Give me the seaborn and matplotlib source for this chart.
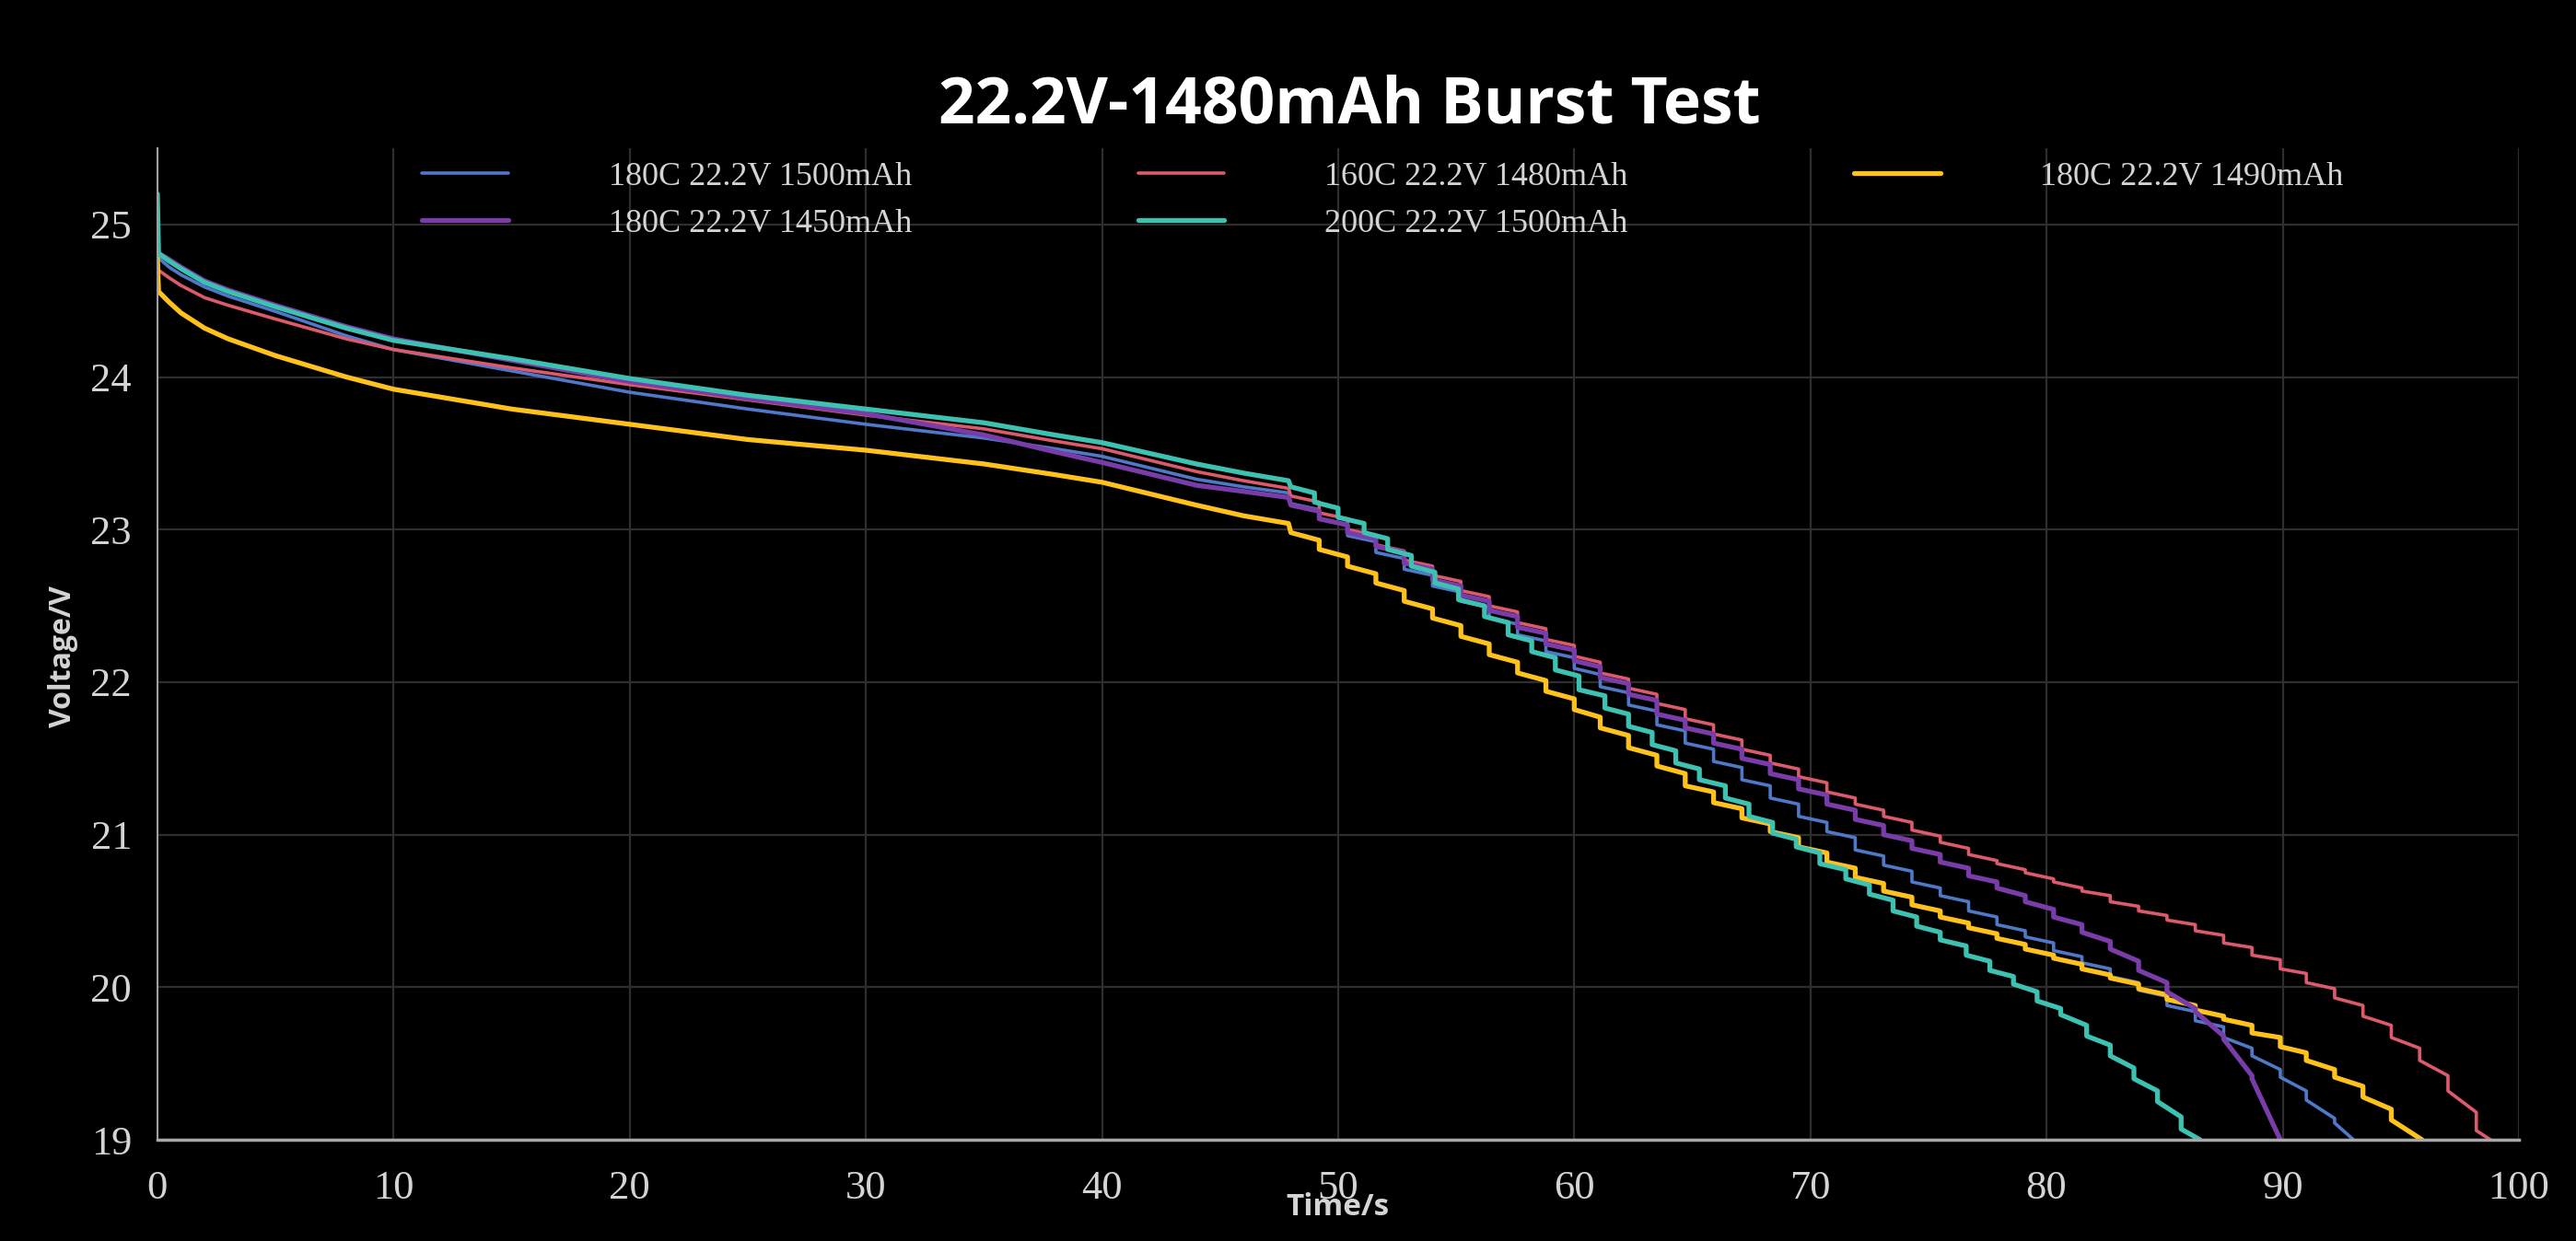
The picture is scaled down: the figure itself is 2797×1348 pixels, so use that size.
import matplotlib
matplotlib.use("Agg")
import matplotlib.pyplot as plt
import seaborn as sns

# ---- data ----
labels = ["180C 22.2V 1500mAh", "180C 22.2V 1450mAh", "160C 22.2V 1480mAh",
          "200C 22.2V 1500mAh", "180C 22.2V 1490mAh"]
colors = ["#5078c8", "#7a3ca8", "#dc5a6c", "#3dc2b2", "#ffc21c"]

# smooth discharge before the pulses start (common sample times)
t_smooth = [0, 0.05, 0.5, 1, 2, 3, 5, 8, 10, 15, 20, 25, 30, 35, 38, 40, 44, 46, 47.9]
v_smooth_blue = [24.82, 24.78, 24.72, 24.67, 24.59, 24.53, 24.43, 24.27, 24.18, 24.04,
                 23.90, 23.79, 23.69, 23.60, 23.53, 23.48, 23.33, 23.28, 23.24]
v_smooth_purple = [24.82, 24.81, 24.77, 24.72, 24.63, 24.57, 24.47, 24.33, 24.25, 24.11,
                   23.97, 23.86, 23.76, 23.62, 23.51, 23.44, 23.29, 23.25, 23.21]
v_smooth_red = [24.80, 24.70, 24.65, 24.60, 24.52, 24.47, 24.38, 24.25, 24.18, 24.06,
                23.95, 23.85, 23.75, 23.66, 23.58, 23.53, 23.38, 23.32, 23.27]
v_smooth_teal = [25.20, 24.81, 24.76, 24.71, 24.62, 24.56, 24.46, 24.32, 24.24, 24.12,
                 23.99, 23.88, 23.79, 23.70, 23.62, 23.57, 23.43, 23.37, 23.32]
v_smooth_yellow = [24.78, 24.56, 24.49, 24.42, 24.32, 24.25, 24.14, 24.00, 23.92, 23.79,
                   23.69, 23.59, 23.52, 23.43, 23.36, 23.31, 23.16, 23.09, 23.04]

# burst part: start time of each pulse step
t_steps = [48.0, 49.2, 50.4, 51.6, 52.8, 54.0, 55.2, 56.4, 57.6, 58.8, 60.0, 61.1, 62.3,
           63.5, 64.7, 65.9, 67.1, 68.3, 69.5, 70.7, 71.9, 73.1, 74.3, 75.5, 76.7, 77.9,
           79.1, 80.3, 81.5, 82.7, 83.9, 85.1, 86.3, 87.5, 88.7, 89.9, 91.0, 92.2, 93.4,
           94.6, 95.8, 97.0, 98.2]
t_steps_teal = [48.0, 49.0, 50.0, 51.1, 52.1, 53.1, 54.1, 55.1, 56.2, 57.2, 58.2, 59.2,
                60.2, 61.3, 62.3, 63.3, 64.3, 65.3, 66.4, 67.4, 68.4, 69.4, 70.4, 71.5,
                72.5, 73.5, 74.5, 75.5, 76.6, 77.6, 78.6, 79.6, 80.6, 81.7, 82.7, 83.7,
                84.7, 85.7]

# voltage at the start (top) and end (bottom) of each step
top_blue = [23.17, 23.07, 22.96, 22.85, 22.74, 22.63, 22.53, 22.42, 22.31, 22.20,
            22.09, 21.97, 21.85, 21.72, 21.60, 21.48, 21.36, 21.24, 21.12, 21.02,
            20.90, 20.80, 20.69, 20.60, 20.50, 20.41, 20.33, 20.24, 20.16, 20.07,
            19.98, 19.88, 19.78, 19.67, 19.55, 19.41, 19.26, 19.11]
bot_blue = [23.13, 23.03, 22.92, 22.81, 22.70, 22.59, 22.49, 22.38, 22.27, 22.16,
            22.05, 21.93, 21.81, 21.68, 21.56, 21.44, 21.32, 21.20, 21.08, 20.98,
            20.86, 20.76, 20.65, 20.56, 20.46, 20.37, 20.29, 20.20, 20.12, 20.03,
            19.94, 19.84, 19.74, 19.60, 19.46, 19.32, 19.14, 19.00]
top_purple = [23.16, 23.07, 22.98, 22.89, 22.78, 22.67, 22.57, 22.47, 22.36, 22.25,
              22.14, 22.03, 21.92, 21.79, 21.70, 21.60, 21.50, 21.40, 21.30, 21.20,
              21.10, 21.00, 20.91, 20.82, 20.73, 20.65, 20.56, 20.46, 20.36, 20.25,
              20.11, 19.97, 19.84, 19.66, 19.40]
bot_purple = [23.12, 23.03, 22.94, 22.85, 22.74, 22.63, 22.53, 22.43, 22.32, 22.21,
              22.10, 21.99, 21.88, 21.75, 21.66, 21.56, 21.46, 21.36, 21.26, 21.16,
              21.06, 20.96, 20.87, 20.78, 20.69, 20.60, 20.51, 20.41, 20.30, 20.17,
              20.03, 19.86, 19.68, 19.42, 19.00]
top_red = [23.22, 23.11, 23.00, 22.90, 22.80, 22.70, 22.60, 22.50, 22.39, 22.28,
           22.17, 22.06, 21.96, 21.86, 21.76, 21.66, 21.56, 21.47, 21.38, 21.28,
           21.20, 21.12, 21.03, 20.95, 20.87, 20.81, 20.75, 20.69, 20.63, 20.56,
           20.50, 20.44, 20.37, 20.29, 20.21, 20.12, 20.03, 19.93, 19.81, 19.67,
           19.52, 19.32, 19.06]
bot_red = [23.18, 23.07, 22.96, 22.86, 22.76, 22.66, 22.56, 22.46, 22.35, 22.24,
           22.13, 22.02, 21.92, 21.82, 21.72, 21.62, 21.52, 21.43, 21.34, 21.24,
           21.16, 21.08, 20.99, 20.91, 20.83, 20.77, 20.71, 20.65, 20.60, 20.53,
           20.47, 20.41, 20.34, 20.26, 20.18, 20.09, 19.99, 19.88, 19.75, 19.60,
           19.42, 19.18, 19.00]
top_teal = [23.28, 23.18, 23.08, 22.98, 22.87, 22.76, 22.65, 22.54, 22.43, 22.31,
            22.20, 22.08, 21.95, 21.83, 21.71, 21.59, 21.47, 21.36, 21.24, 21.12,
            21.01, 20.92, 20.81, 20.71, 20.61, 20.50, 20.40, 20.31, 20.21, 20.11,
            20.02, 19.91, 19.82, 19.68, 19.55, 19.40, 19.25, 19.07]
bot_teal = [23.24, 23.14, 23.04, 22.94, 22.83, 22.72, 22.61, 22.50, 22.39, 22.27,
            22.16, 22.04, 21.91, 21.79, 21.67, 21.55, 21.43, 21.32, 21.20, 21.08,
            20.97, 20.88, 20.77, 20.67, 20.57, 20.46, 20.36, 20.27, 20.17, 20.07,
            19.97, 19.86, 19.75, 19.62, 19.47, 19.32, 19.15, 19.00]
top_yellow = [22.98, 22.87, 22.76, 22.65, 22.53, 22.42, 22.30, 22.18, 22.06, 21.94,
              21.82, 21.70, 21.57, 21.45, 21.32, 21.21, 21.11, 21.02, 20.92, 20.82,
              20.72, 20.63, 20.54, 20.46, 20.39, 20.32, 20.25, 20.19, 20.12, 20.06,
              19.99, 19.92, 19.85, 19.79, 19.70, 19.61, 19.52, 19.41, 19.28, 19.13]
bot_yellow = [22.93, 22.82, 22.71, 22.60, 22.48, 22.37, 22.25, 22.13, 22.01, 21.89,
              21.77, 21.65, 21.52, 21.40, 21.28, 21.17, 21.07, 20.98, 20.88, 20.78,
              20.68, 20.59, 20.50, 20.42, 20.35, 20.28, 20.21, 20.15, 20.08, 20.02,
              19.95, 19.88, 19.81, 19.75, 19.67, 19.57, 19.46, 19.35, 19.20, 19.00]

# time where each curve reaches the 19 V floor
end_times = [93.0, 89.9, 98.8, 86.5, 95.9]

smooth_v = [v_smooth_blue, v_smooth_purple, v_smooth_red, v_smooth_teal, v_smooth_yellow]
tops = [top_blue, top_purple, top_red, top_teal, top_yellow]
bots = [bot_blue, bot_purple, bot_red, bot_teal, bot_yellow]
step_t = [t_steps, t_steps, t_steps, t_steps_teal, t_steps]
widths = [2.6, 3.8, 2.6, 3.8, 3.8]
draw_order = [0, 2, 4, 1, 3]


def series_points(i):
    xs = list(t_smooth)
    ys = list(smooth_v[i])
    n = len(tops[i])
    starts = step_t[i][:n]
    ends = step_t[i][1:n] + [end_times[i]]
    for t0, t1, a, b in zip(starts, ends, tops[i], bots[i]):
        xs += [t0, t1]
        ys += [a, b]
    return xs, ys


# ---- style ----
sns.set_style("dark", {"axes.facecolor": "black", "figure.facecolor": "black",
                       "grid.color": "#2e2e2e"})
plt.rcParams["font.family"] = ["Liberation Serif", "DejaVu Serif"]

fig = plt.figure(figsize=(27.97, 13.48), dpi=100)
ax = fig.add_axes([0.0611, 0.0816, 0.9167, 0.799])

handles = {}
for i in draw_order:
    xs, ys = series_points(i)
    sns.lineplot(x=xs, y=ys, color=colors[i], linewidth=widths[i], estimator=None,
                 sort=False, ax=ax, label=labels[i])
    handles[i] = ax.lines[-1]

ax.set_xlim(0, 100)
ax.set_ylim(19, 25.5)
ax.set_xticks(range(0, 101, 10))
ax.set_yticks(range(19, 26))
ax.grid(True, color="#2e2e2e", linewidth=1.6)
ax.tick_params(length=0, labelsize=32, labelcolor="#d4d4d4")
ax.tick_params(axis="y", pad=20)
ax.tick_params(axis="x", pad=24)

for side in ["top", "right"]:
    ax.spines[side].set_visible(False)
ax.spines["left"].set_color("#a0a0a0")
ax.spines["left"].set_linewidth(1.5)
ax.spines["bottom"].set_color("#a8a8a8")
ax.spines["bottom"].set_linewidth(2.5)

ax.set_xlabel("Time/s", fontsize=24, fontweight="bold", color="#d4d4d4",
              family="Open Sans", va="center")
ax.xaxis.set_label_coords(0.5, -0.068)
ax.set_ylabel("Voltage/V", fontsize=23, fontweight="bold", color="#d4d4d4",
              family="Open Sans", va="center")
ax.yaxis.set_label_coords(-0.040, 0.487)

leg = ax.legend([handles[i] for i in range(5)], labels, ncol=3, loc="upper left",
                bbox_to_anchor=(0.1065, 1.0), frameon=False, borderaxespad=0,
                handlelength=2.6, handletextpad=3.0, columnspacing=6.8,
                labelspacing=0.5, prop={"family": "Liberation Serif", "size": 26})
for txt in leg.get_texts():
    txt.set_color("#d4d4d4")

fig.text(0.5238, 0.914, "22.2V-1480mAh Burst Test", ha="center", va="center",
         fontsize=50, fontweight="bold", color="white", family="Open Sans")

fig.savefig("out.png", dpi=100, facecolor="black")
